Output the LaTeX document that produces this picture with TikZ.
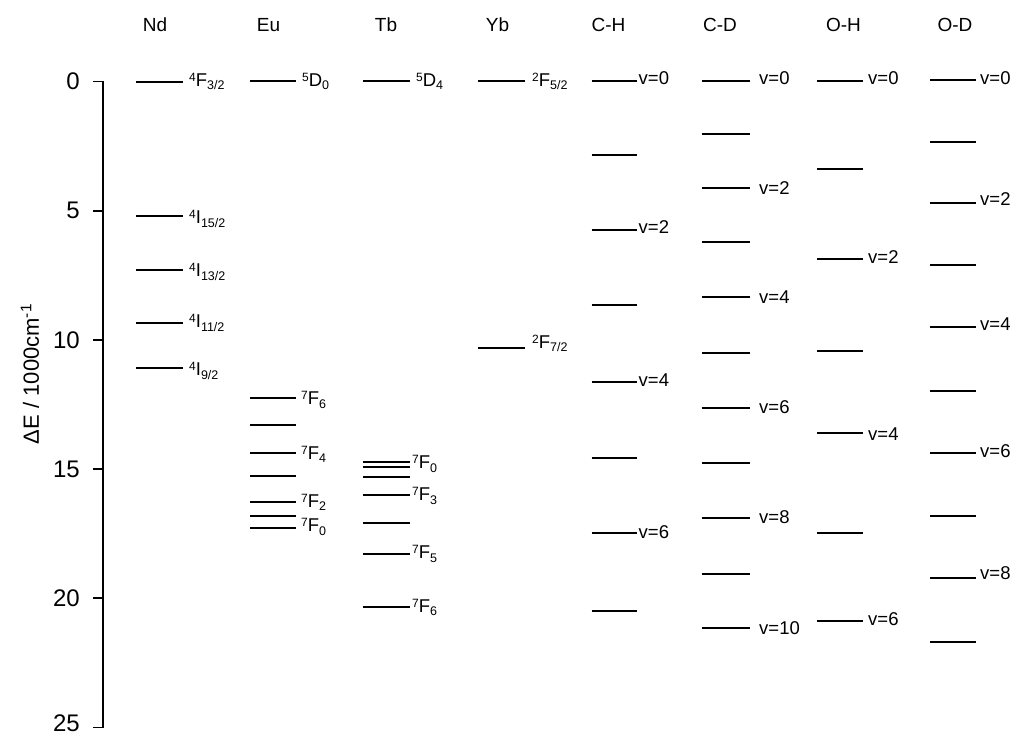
\documentclass[tikz,border=0pt]{standalone}
\usepackage{fontspec}
\setmainfont{Liberation Sans}
\newcommand{\term}[3]{\raisebox{5pt}{\fontsize{12}{12}\selectfont #1}#2\raisebox{-3.2pt}{\fontsize{12.5}{12.5}\selectfont #3}}
\begin{document}
\begin{tikzpicture}[x=1pt,y=-1pt,
  lvl/.style={line width=1.8pt},
  lab/.style={anchor=west,inner sep=0pt,font=\fontsize{18.5}{18.5}\selectfont},
  hdr/.style={font=\fontsize{19}{19}\selectfont,inner sep=0pt},
  ticklab/.style={anchor=east,inner sep=0pt,font=\fontsize{24}{24}\selectfont},
  axis/.style={line width=1.8pt}]
\useasboundingbox (0,0) rectangle (1014,738);
% headers
\node[hdr] (hNd) at (155,25) {Nd};
\node[hdr] (hEu) at (268.5,25) {Eu};
\node[hdr] (hTb) at (386,25) {Tb};
\node[hdr] (hYb) at (497.5,25) {Yb};
\node[hdr] (hCH) at (608.5,25) {C-H};
\node[hdr] (hCD) at (720,25) {C-D};
\node[hdr] (hOH) at (843.5,25) {O-H};
\node[hdr] (hOD) at (955,25) {O-D};
% axis
\coordinate (atop) at (103,81.5);
\coordinate (abot) at (103,727.5);
\draw[axis] (atop) -- (abot);
\foreach \v in {0,5,10,15,20,25}{
  \pgfmathsetmacro{\yy}{81.5+25.84*\v}
  \draw[axis] (93,\yy) coordinate (t\v) -- (103,\yy);
}
\foreach \v in {0,5,10,15,20}{
  \pgfmathsetmacro{\yy}{81.5+25.84*\v}
  \node[ticklab] (tl\v) at (80,\yy) {\v};
}
\node[ticklab,anchor=south east] (tl25) at (80,732) {25};
\node[rotate=90,inner sep=0pt,font=\fontsize{22}{22}\selectfont] (ylab) at (30,374) {ΔE / 1000cm\textsuperscript{-1}};
% Nd
\foreach \y [count=\i] in {81.7,215.7,270,322.7,368.3}
  \draw[lvl] (136,\y) coordinate (nd\i a) -- (182.7,\y) coordinate (nd\i b);
\node[lab] (lnd1) at (189,81.5) {\term{4}{F}{3/2}};
\node[lab] (lnd2) at (189,219) {\term{4}{I}{15/2}};
\node[lab] (lnd3) at (189,272) {\term{4}{I}{13/2}};
\node[lab] (lnd4) at (189,323) {\term{4}{I}{11/2}};
\node[lab] (lnd5) at (189,371) {\term{4}{I}{9/2}};
% Eu
\foreach \y [count=\i] in {81,398.3,425,453.3,476,501.7,516,527.7}
  \draw[lvl] (250,\y) coordinate (eu\i a) -- (295.5,\y) coordinate (eu\i b);
\node[lab] (leu1) at (302,81.7) {\term{5}{D}{0}};
\node[lab] (leu2) at (301,400) {\term{7}{F}{6}};
\node[lab] (leu3) at (301,454) {\term{7}{F}{4}};
\node[lab] (leu4) at (301,502.5) {\term{7}{F}{2}};
\node[lab] (leu5) at (301,527) {\term{7}{F}{0}};
% Tb
\foreach \y [count=\i] in {81,462.3,466.7,477.3,494.7,523.3,554,606.7}
  \draw[lvl] (363.3,\y) coordinate (tb\i a) -- (410,\y) coordinate (tb\i b);
\node[lab] (ltb1) at (416,81) {\term{5}{D}{4}};
\node[lab] (ltb2) at (412,464) {\term{7}{F}{0}};
\node[lab] (ltb3) at (412,496) {\term{7}{F}{3}};
\node[lab] (ltb4) at (412,554) {\term{7}{F}{5}};
\node[lab] (ltb5) at (412,607.5) {\term{7}{F}{6}};
% Yb
\foreach \y [count=\i] in {81,348.3}
  \draw[lvl] (478.3,\y) coordinate (yb\i a) -- (525,\y) coordinate (yb\i b);
\node[lab] (lyb1) at (532,81.5) {\term{2}{F}{5/2}};
\node[lab] (lyb2) at (532,343) {\term{2}{F}{7/2}};
% C-H
\foreach \y [count=\i] in {81,155,230,305,381.7,457.7,532.7,611}
  \draw[lvl] (591.7,\y) coordinate (ch\i a) -- (636.7,\y) coordinate (ch\i b);
\node[lab] (lch1) at (638.5,78) {v=0};
\node[lab] (lch2) at (638.5,227.5) {v=2};
\node[lab] (lch3) at (638.5,380) {v=4};
\node[lab] (lch4) at (638.5,532) {v=6};
% C-D
\foreach \y [count=\i] in {81,134.3,188.3,242.3,296.7,352.7,408.3,463.3,518.3,574.3,628.3}
  \draw[lvl] (701.7,\y) coordinate (cd\i a) -- (750,\y) coordinate (cd\i b);
\node[lab] (lcd1) at (759,78) {v=0};
\node[lab] (lcd2) at (759,188) {v=2};
\node[lab] (lcd3) at (759,297) {v=4};
\node[lab] (lcd4) at (759,407) {v=6};
\node[lab] (lcd5) at (759,517) {v=8};
\node[lab] (lcd6) at (759,628) {v=10};
% O-H
\foreach \y [count=\i] in {81,169.3,259.3,350.7,432.7,533.3,620.7}
  \draw[lvl] (817.3,\y) coordinate (oh\i a) -- (863.3,\y) coordinate (oh\i b);
\node[lab] (loh1) at (868,78) {v=0};
\node[lab] (loh2) at (868,257.5) {v=2};
\node[lab] (loh3) at (868,434) {v=4};
\node[lab] (loh4) at (868,619) {v=6};
% O-D
\foreach \y [count=\i] in {80,141.7,202.7,265,326.7,390.7,453.3,515.7,578.3,641.7}
  \draw[lvl] (930,\y) coordinate (od\i a) -- (976,\y) coordinate (od\i b);
\node[lab] (lod1) at (980,78) {v=0};
\node[lab] (lod2) at (980,199) {v=2};
\node[lab] (lod3) at (980,324) {v=4};
\node[lab] (lod4) at (980,451) {v=6};
\node[lab] (lod5) at (980,573) {v=8};
\end{tikzpicture}
\end{document}
